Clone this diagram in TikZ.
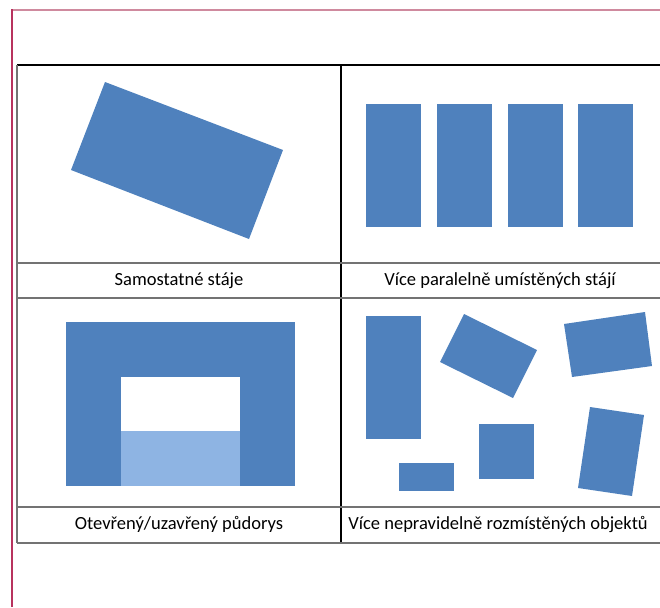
\documentclass[tikz,border=0pt]{standalone}
\usepackage{fontspec}
\setmainfont{Carlito}
\definecolor{stallblue}{HTML}{4F81BD}
\definecolor{lightblue}{HTML}{8EB4E3}
\definecolor{pagered}{HTML}{B8325E}
\definecolor{pagepink}{HTML}{CF8A9E}
\begin{document}
\begin{tikzpicture}[x=0.75pt,y=-0.75pt,
  stall/.style={fill=stallblue},
  rule/.style={draw=black!55, line width=1pt},
  label/.style={font=\fontsize{13.9}{16}\selectfont}]
\useasboundingbox (0,0) rectangle (660,607);
% page margin
\draw[pagepink, line width=1.5pt] (12,9.5) -- (660,9.5);
\draw[pagered, line width=1pt] (12,607) -- (12,9);
% table
\draw[black, line width=0.9pt] (17,65) -- (665,65);
\draw[black, line width=0.9pt] (341,65) -- (341,543);
\draw[rule] (17,65) -- (17,543);
\draw[rule] (17,263) -- (665,263);
\draw[rule] (17,298) -- (665,298);
\draw[rule] (17,507) -- (665,507);
\draw[rule] (17,543) -- (665,543);
% single stall
\fill[stall] (105,82) -- (283,150) -- (249,239) -- (71,170) -- cycle;
% parallel stalls
\foreach \x in {366,437,508,578}
  \fill[stall] (\x,104) rectangle ++(55,123);
% open/closed plan
\fill[stall] (66,322) rectangle (295,486);
\fill[white] (121,377) rectangle (240,431);
\fill[lightblue] (121,431) rectangle (240,486);
% irregular objects
\fill[stall] (366,316) rectangle (421,439);
\fill[stall] (464,314) -- (537,350) -- (513,398) -- (440,362) -- cycle;
\fill[stall] (564,324) -- (645,312) -- (652,366) -- (572,377) -- cycle;
\fill[stall] (399,463) rectangle (454,491);
\fill[stall] (479,424) rectangle (534,479);
\fill[stall] (590,407) -- (644,415) -- (632,496) -- (578,488) -- cycle;
% captions
\node[label] (single) at (179,280.5) {Samostatné stáje};
\node[label] (parallel) at (500,280.5) {Více paralelně umístěných stájí};
\node[label] (plan) at (179,524.5) {Otevřený/uzavřený půdorys};
\node[label] (irregular) at (498,524.5) {Více nepravidelně rozmístěných objektů};
\end{tikzpicture}
\end{document}
